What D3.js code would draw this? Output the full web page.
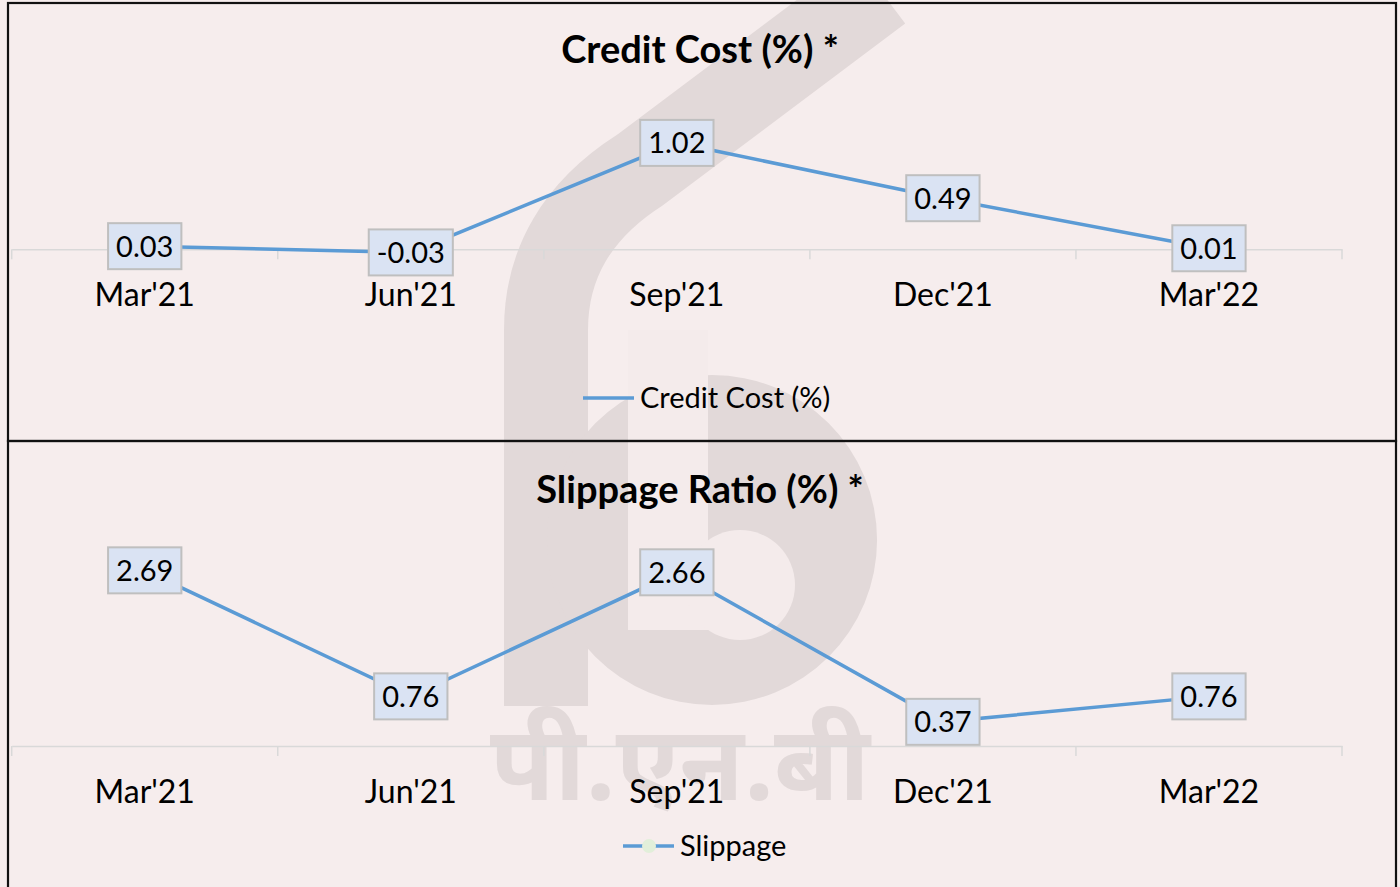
<!doctype html>
<html lang="en">
<head>
    <title>Credit Cost and Slippage Ratio</title>
    <script src="https://d3js.org/d3.v7.min.js"></script>
    <style>
        body { margin: 0; background: #f6eded; }
        text { font-family: Lato, "Open Sans", sans-serif; fill: #000; }
    </style>
</head>
<body>
    <script>
       // data
       let categories = ["Mar'21", "Jun'21", "Sep'21", "Dec'21", "Mar'22"];
       let creditCost = [0.03, -0.03, 1.02, 0.49, 0.01];
       let slippage = [2.69, 0.76, 2.66, 0.37, 0.76];
       let titles = ["Credit Cost (%) *", "Slippage Ratio (%) *"];
       let legendNames = ["Credit Cost (%)", "Slippage"];

       let width = 1400, height = 887;

       let svg = d3.select('body').append('svg')
                   .attr('width', width).attr('height', height)
                   .style('display', 'block')
                   .style('background', '#f6eded');

       // faint bank logo in the background
       let wmColor = '#e2d9d9', holeColor = '#f4ebeb';
       let wm = svg.append('g').attr('fill', wmColor).attr('stroke', 'none');
       wm.append('path')
         .attr('d', 'M546,706 L546,330 Q546,230 640,170 L880,-10')
         .attr('fill', 'none').attr('stroke', wmColor).attr('stroke-width', 84);
       wm.append('path')
         .attr('d', d3.arc()({innerRadius: 0, outerRadius: 165, startAngle: 0, endAngle: 2 * Math.PI}))
         .attr('transform', 'translate(712,540)');
       wm.append('rect').attr('x', 628).attr('y', 330).attr('width', 80).attr('height', 300).attr('fill', holeColor);
       wm.append('circle').attr('cx', 740).attr('cy', 585).attr('r', 55).attr('fill', holeColor);
       wm.append('text').text('पी.एन.बी')
         .attr('x', 680).attr('y', 800).attr('text-anchor', 'middle')
         .style('font-family', '"Noto Sans Devanagari", "Noto Sans", sans-serif')
         .style('font-size', '105px').style('font-weight', 'bold').style('fill', wmColor);

       let x = d3.scaleBand().domain(categories).range([11.7, 1342]);

       let panels = [
           {top: 3, bottom: 441, title: titles[0], titleY: 63, values: creditCost,
            y: d3.scaleLinear().domain([0, 1]).range([249.3, 145]),
            labelY: 306, legend: legendNames[0], legendX: 583, legendY: 398, marker: false},
           {top: 441, bottom: 900, title: titles[1], titleY: 503, values: slippage,
            y: d3.scaleLinear().domain([0, 1]).range([746, 680.7]),
            labelY: 803, legend: legendNames[1], legendX: 623, legendY: 846, marker: true}
       ];

       panels.forEach(function (p) {
           let g = svg.append('g');

           g.append('rect')
            .attr('x', 8).attr('y', p.top).attr('width', 1388).attr('height', p.bottom - p.top)
            .attr('fill', 'none').attr('stroke', '#111').attr('stroke-width', 2.2);

           g.append('text').text(p.title)
            .attr('x', 700).attr('y', p.titleY).attr('text-anchor', 'middle')
            .style('font-size', '38px').style('font-weight', 'bold');

           // category axis on the zero line
           let axis = g.append('g')
                       .attr('transform', `translate(0, ${p.y(0)})`)
                       .call(d3.axisBottom(x).tickSize(0).tickFormat(''));
           axis.select('.domain').attr('stroke', '#d9d9d9').attr('stroke-width', 1.5);
           let edges = x.domain().map(d => x(d)).concat([x.range()[1]]);
           axis.selectAll('line.edge').data(edges).enter().append('line')
               .attr('class', 'edge')
               .attr('x1', d => d).attr('x2', d => d)
               .attr('y1', 0).attr('y2', 10)
               .attr('stroke', '#d9d9d9').attr('stroke-width', 1.5);

           g.selectAll('text.cat').data(categories).enter().append('text')
            .attr('class', 'cat')
            .attr('x', d => x(d) + x.bandwidth() / 2)
            .attr('y', p.labelY)
            .attr('text-anchor', 'middle')
            .style('font-size', '32px')
            .text(d => d);

           let pts = p.values.map((v, i) => ({cat: categories[i], v: v}));
           let line = d3.line()
                        .x(d => x(d.cat) + x.bandwidth() / 2)
                        .y(d => p.y(d.v));

           g.append('path').datum(pts)
            .attr('d', line)
            .attr('fill', 'none')
            .attr('stroke', '#5b9bd5')
            .attr('stroke-width', 3.5);

           // data labels in boxes
           let lab = g.selectAll('g.lab').data(pts).enter().append('g')
                      .attr('class', 'lab')
                      .attr('transform', d => `translate(${x(d.cat) + x.bandwidth() / 2}, ${p.y(d.v)})`);
           lab.each(function (d) {
               let s = d3.select(this);
               let t = s.append('text').text(d.v.toFixed(2))
                        .attr('text-anchor', 'middle')
                        .attr('dy', '0.36em')
                        .style('font-size', '29px');
               let w = t.node().getComputedTextLength() + 16;
               s.insert('rect', 'text')
                .attr('x', -w / 2).attr('y', -23)
                .attr('width', w).attr('height', 46)
                .attr('fill', '#dae3f3')
                .attr('stroke', '#bfbfbf').attr('stroke-width', 2);
           });

           // legend
           let lg = g.append('g').attr('transform', `translate(${p.legendX}, ${p.legendY})`);
           lg.append('line').attr('x1', 0).attr('x2', 51).attr('y1', 0).attr('y2', 0)
             .attr('stroke', '#5b9bd5').attr('stroke-width', 3.5);
           if (p.marker) {
               lg.append('circle').attr('cx', 26).attr('cy', 0).attr('r', 7).attr('fill', '#e2efda');
           }
           lg.append('text').text(p.legend)
             .attr('x', 57).attr('y', 0).attr('dy', '0.35em')
             .style('font-size', '29px');
       });
    </script>
</body>
</html>
